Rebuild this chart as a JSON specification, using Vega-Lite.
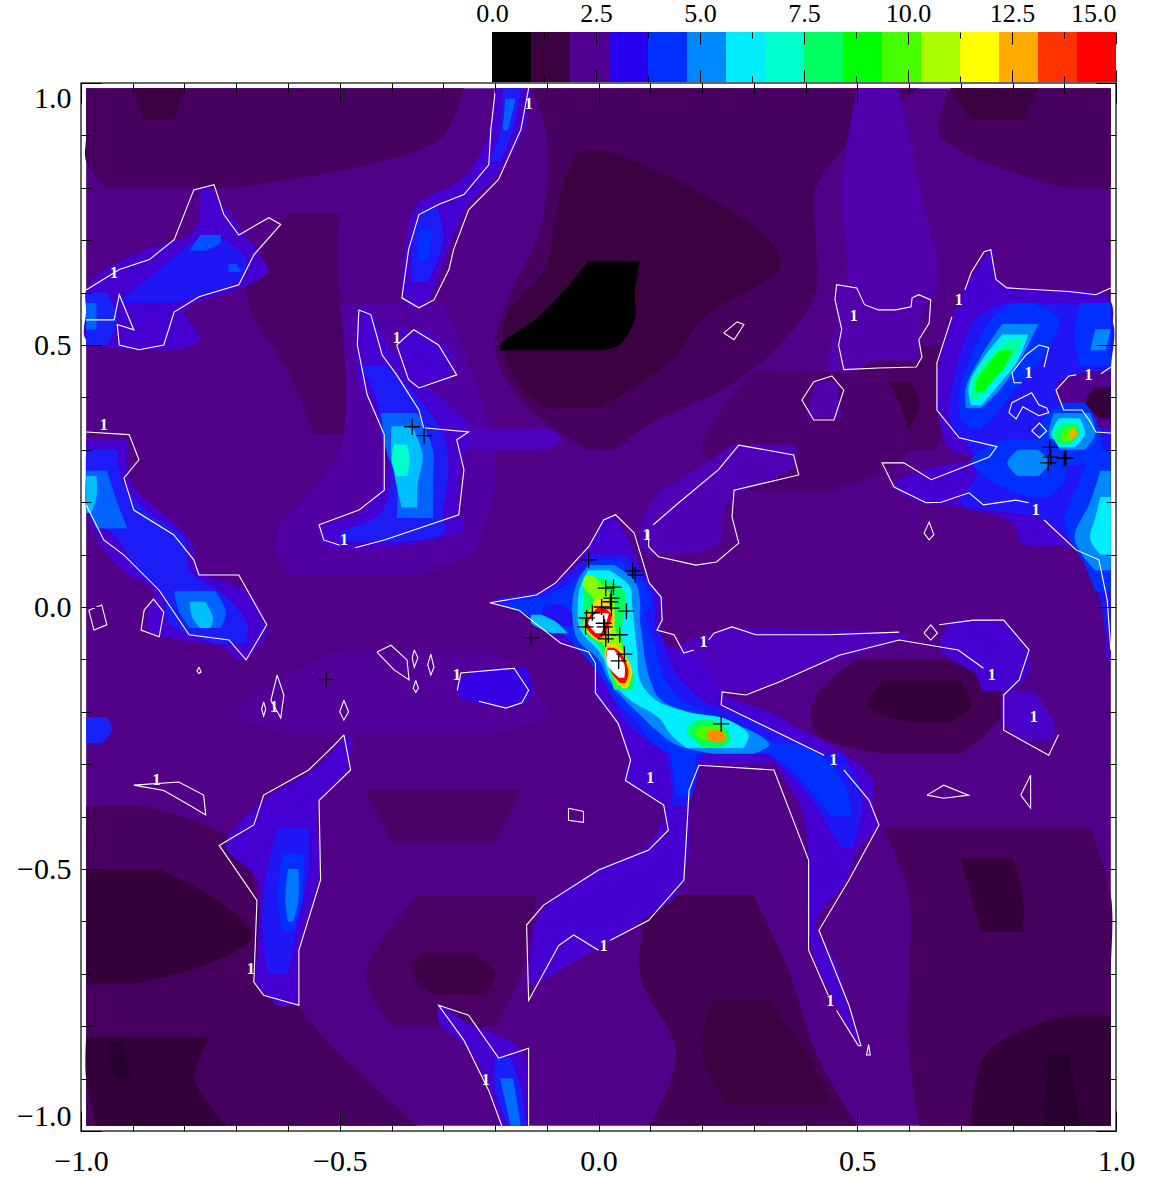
{"$schema":"https://vega.github.io/schema/vega-lite/v6.json","padding":0,"background":"white","config":{"view":{"stroke":null},"concat":{"spacing":-3},"axis":{"labelFont":"Liberation Serif","titleFont":"Liberation Serif","grid":false,"domain":false,"title":null,"tickColor":"black"}},
"datasets":{"cb":[{"lo":0,"hi":0.9375,"v":0,"b":0,"t":1},{"lo":0.9375,"hi":1.875,"v":1,"b":0,"t":1},{"lo":1.875,"hi":2.8125,"v":2,"b":0,"t":1},{"lo":2.8125,"hi":3.75,"v":3,"b":0,"t":1},{"lo":3.75,"hi":4.6875,"v":4,"b":0,"t":1},{"lo":4.6875,"hi":5.625,"v":5,"b":0,"t":1},{"lo":5.625,"hi":6.5625,"v":6,"b":0,"t":1},{"lo":6.5625,"hi":7.5,"v":7,"b":0,"t":1},{"lo":7.5,"hi":8.4375,"v":8,"b":0,"t":1},{"lo":8.4375,"hi":9.375,"v":9,"b":0,"t":1},{"lo":9.375,"hi":10.3125,"v":10,"b":0,"t":1},{"lo":10.3125,"hi":11.25,"v":11,"b":0,"t":1},{"lo":11.25,"hi":12.1875,"v":12,"b":0,"t":1},{"lo":12.1875,"hi":13.125,"v":13,"b":0,"t":1},{"lo":13.125,"hi":14.0625,"v":14,"b":0,"t":1},{"lo":14.0625,"hi":15,"v":15,"b":0,"t":1}],
"lab":[{"x":-0.135,"y":0.96},{"x":-0.936,"y":0.638},{"x":-0.39,"y":0.514},{"x":-0.956,"y":0.348},{"x":-0.492,"y":0.128},{"x":-0.672,"y":-0.69},{"x":-0.274,"y":-0.13},{"x":-0.627,"y":-0.191},{"x":-0.854,"y":-0.33},{"x":-0.218,"y":-0.903},{"x":0.01,"y":-0.646},{"x":0.093,"y":0.138},{"x":0.203,"y":-0.067},{"x":0.1,"y":-0.327},{"x":0.454,"y":-0.292},{"x":0.448,"y":-0.751},{"x":0.76,"y":-0.13},{"x":0.841,"y":-0.21},{"x":0.696,"y":0.586},{"x":0.493,"y":0.556},{"x":0.831,"y":0.447},{"x":0.947,"y":0.443},{"x":0.845,"y":0.185}],
"src":[{"x":-0.019,"y":0.09},{"x":0.066,"y":0.069},{"x":0.071,"y":0.061},{"x":0.014,"y":0.036},{"x":0.029,"y":0.038},{"x":0.025,"y":0.017},{"x":0.023,"y":0.01},{"x":0.006,"y":0},{"x":0.025,"y":-0.002},{"x":0.054,"y":-0.008},{"x":-0.012,"y":-0.011},{"x":-0.023,"y":-0.021},{"x":-0.025,"y":-0.038},{"x":0.01,"y":-0.031},{"x":0.012,"y":-0.038},{"x":0.019,"y":-0.053},{"x":0.041,"y":-0.053},{"x":0.014,"y":-0.061},{"x":0.05,"y":-0.09},{"x":0.039,"y":-0.103},{"x":-0.13,"y":-0.059},{"x":0.237,"y":-0.223},{"x":-0.526,"y":-0.138},{"x":-0.36,"y":0.344},{"x":-0.337,"y":0.327},{"x":0.872,"y":0.305},{"x":0.874,"y":0.286},{"x":0.869,"y":0.275},{"x":0.9,"y":0.284},{"x":0.903,"y":0.284}],
"cont":[
{"c":1,"x":-0.199,"y":0.99},{"c":1,"x":-0.208,"y":0.911},{"c":1,"x":-0.212,"y":0.844},{"c":1,"x":-0.26,"y":0.787},{"c":1,"x":-0.309,"y":0.768},{"c":1,"x":-0.347,"y":0.749},{"c":1,"x":-0.367,"y":0.682},{"c":1,"x":-0.38,"y":0.59},{"c":1,"x":-0.347,"y":0.571},{"c":1,"x":-0.318,"y":0.586},{"c":1,"x":-0.289,"y":0.644},{"c":1,"x":-0.28,"y":0.682},{"c":1,"x":-0.251,"y":0.758},{"c":1,"x":-0.193,"y":0.816},{"c":1,"x":-0.15,"y":0.911},{"c":1,"x":-0.135,"y":0.99},
{"c":2,"x":-0.463,"y":0.567},{"c":2,"x":-0.466,"y":0.5},{"c":2,"x":-0.447,"y":0.405},{"c":2,"x":-0.414,"y":0.329},{"c":2,"x":-0.414,"y":0.223},{"c":2,"x":-0.463,"y":0.185},{"c":2,"x":-0.54,"y":0.157},{"c":2,"x":-0.531,"y":0.128},{"c":2,"x":-0.5,"y":0.118},
{"c":3,"x":-0.47,"y":0.113},{"c":3,"x":-0.414,"y":0.128},{"c":3,"x":-0.27,"y":0.176},{"c":3,"x":-0.26,"y":0.262},{"c":3,"x":-0.274,"y":0.319},{"c":3,"x":-0.251,"y":0.334},{"c":3,"x":-0.338,"y":0.342},{"c":3,"x":-0.347,"y":0.376},{"c":3,"x":-0.39,"y":0.443},{"c":3,"x":-0.418,"y":0.481},{"c":3,"x":-0.44,"y":0.558},{"c":3,"x":-0.463,"y":0.567},
{"c":4,"x":-0.39,"y":0.5},{"c":4,"x":-0.357,"y":0.529},{"c":4,"x":-0.309,"y":0.5},{"c":4,"x":-0.274,"y":0.443},{"c":4,"x":-0.347,"y":0.418},{"c":4,"x":-0.367,"y":0.434},{"c":4,"x":-0.39,"y":0.5},
{"c":5,"x":-0.99,"y":0.334},{"c":5,"x":-0.907,"y":0.329},{"c":5,"x":-0.888,"y":0.281},{"c":5,"x":-0.917,"y":0.246},{"c":5,"x":-0.898,"y":0.185},{"c":5,"x":-0.821,"y":0.138},{"c":5,"x":-0.782,"y":0.09},{"c":5,"x":-0.772,"y":0.061},{"c":5,"x":-0.695,"y":0.061},{"c":5,"x":-0.641,"y":-0.034},{"c":5,"x":-0.681,"y":-0.101},{"c":5,"x":-0.714,"y":-0.063},{"c":5,"x":-0.791,"y":-0.053},{"c":5,"x":-0.849,"y":0.032},{"c":5,"x":-0.917,"y":0.099},{"c":5,"x":-0.956,"y":0.128},{"c":5,"x":-0.99,"y":0.195},
{"c":6,"x":-0.878,"y":-0.006},{"c":6,"x":-0.884,"y":-0.044},{"c":6,"x":-0.849,"y":-0.057},{"c":6,"x":-0.84,"y":-0.01},{"c":6,"x":-0.86,"y":0.015},{"c":6,"x":-0.878,"y":-0.006},
{"c":7,"x":-0.985,"y":-0.006},{"c":7,"x":-0.96,"y":0.004},{"c":7,"x":-0.95,"y":-0.034},{"c":7,"x":-0.975,"y":-0.044},{"c":7,"x":-0.985,"y":-0.006},
{"c":8,"x":-0.99,"y":0.605},{"c":8,"x":-0.926,"y":0.644},{"c":8,"x":-0.868,"y":0.663},{"c":8,"x":-0.82,"y":0.701},{"c":8,"x":-0.782,"y":0.796},{"c":8,"x":-0.743,"y":0.806},{"c":8,"x":-0.724,"y":0.749},{"c":8,"x":-0.695,"y":0.71},{"c":8,"x":-0.637,"y":0.743},{"c":8,"x":-0.614,"y":0.73},{"c":8,"x":-0.666,"y":0.672},{"c":8,"x":-0.695,"y":0.615},{"c":8,"x":-0.772,"y":0.592},{"c":8,"x":-0.82,"y":0.563},{"c":8,"x":-0.84,"y":0.5},{"c":8,"x":-0.888,"y":0.491},{"c":8,"x":-0.926,"y":0.5},{"c":8,"x":-0.93,"y":0.539},{"c":8,"x":-0.898,"y":0.529},{"c":8,"x":-0.926,"y":0.596},{"c":8,"x":-0.936,"y":0.548},{"c":8,"x":-0.99,"y":0.548},
{"c":9,"x":-0.492,"y":-0.244},{"c":9,"x":-0.479,"y":-0.311},{"c":9,"x":-0.54,"y":-0.369},{"c":9,"x":-0.537,"y":-0.521},{"c":9,"x":-0.579,"y":-0.655},{"c":9,"x":-0.579,"y":-0.76},{"c":9,"x":-0.647,"y":-0.741},{"c":9,"x":-0.666,"y":-0.716},{"c":9,"x":-0.66,"y":-0.56},{"c":9,"x":-0.733,"y":-0.455},{"c":9,"x":-0.666,"y":-0.416},{"c":9,"x":-0.647,"y":-0.359},{"c":9,"x":-0.56,"y":-0.311},{"c":9,"x":-0.511,"y":-0.264},{"c":9,"x":-0.492,"y":-0.244},
{"c":10,"x":-0.135,"y":-0.99},{"c":10,"x":-0.135,"y":-0.842},{"c":10,"x":-0.193,"y":-0.861},{"c":10,"x":-0.251,"y":-0.779},{"c":10,"x":-0.309,"y":-0.76},{"c":10,"x":-0.26,"y":-0.827},{"c":10,"x":-0.212,"y":-0.923},{"c":10,"x":-0.187,"y":-0.99},
{"c":11,"x":0.184,"y":-0.082},{"c":11,"x":0.165,"y":-0.088},{"c":11,"x":0.146,"y":-0.053},{"c":11,"x":0.113,"y":-0.044},{"c":11,"x":0.123,"y":-0.025},{"c":11,"x":0.121,"y":0.019},{"c":11,"x":0.098,"y":0.046},{"c":11,"x":0.069,"y":0.141},{"c":11,"x":0.033,"y":0.176},{"c":11,"x":0.01,"y":0.166},{"c":11,"x":-0.019,"y":0.115},{"c":11,"x":-0.083,"y":0.046},{"c":11,"x":-0.12,"y":0.023},{"c":11,"x":-0.21,"y":0.008},{"c":11,"x":-0.154,"y":-0.006},{"c":11,"x":-0.073,"y":-0.069},{"c":11,"x":-0.019,"y":-0.086},{"c":11,"x":-0.006,"y":-0.107},{"c":11,"x":-0.006,"y":-0.164},{"c":11,"x":0.038,"y":-0.222},{"c":11,"x":0.062,"y":-0.292},{"c":11,"x":0.052,"y":-0.331},{"c":11,"x":0.126,"y":-0.378},{"c":11,"x":0.135,"y":-0.426},{"c":11,"x":0.097,"y":-0.464},{"c":11,"x":0,"y":-0.502},{"c":11,"x":-0.106,"y":-0.569},{"c":11,"x":-0.139,"y":-0.607},{"c":11,"x":-0.135,"y":-0.751},{"c":11,"x":-0.077,"y":-0.646},{"c":11,"x":-0.048,"y":-0.626},{"c":11,"x":0,"y":-0.655},
{"c":12,"x":0.023,"y":-0.636},{"c":12,"x":0.097,"y":-0.598},{"c":12,"x":0.165,"y":-0.521},{"c":12,"x":0.175,"y":-0.35},{"c":12,"x":0.194,"y":-0.302},{"c":12,"x":0.339,"y":-0.311},{"c":12,"x":0.406,"y":-0.483},{"c":12,"x":0.406,"y":-0.655},{"c":12,"x":0.444,"y":-0.741},
{"c":13,"x":0.46,"y":-0.77},{"c":13,"x":0.502,"y":-0.837},{"c":13,"x":0.507,"y":-0.837},{"c":13,"x":0.484,"y":-0.76},{"c":13,"x":0.426,"y":-0.617},{"c":13,"x":0.484,"y":-0.521},{"c":13,"x":0.542,"y":-0.416},{"c":13,"x":0.523,"y":-0.369},{"c":13,"x":0.474,"y":-0.311},
{"c":14,"x":0.436,"y":-0.283},{"c":14,"x":0.237,"y":-0.187},{"c":14,"x":0.239,"y":-0.162},{"c":14,"x":0.285,"y":-0.168},{"c":14,"x":0.349,"y":-0.143},{"c":14,"x":0.465,"y":-0.092},{"c":14,"x":0.581,"y":-0.063},{"c":14,"x":0.695,"y":-0.082},{"c":14,"x":0.744,"y":-0.117},
{"c":15,"x":0.213,"y":-0.063},{"c":15,"x":0.223,"y":-0.05},{"c":15,"x":0.258,"y":-0.038},{"c":15,"x":0.304,"y":-0.053},{"c":15,"x":0.349,"y":-0.053},{"c":15,"x":0.445,"y":-0.053},{"c":15,"x":0.581,"y":-0.048},
{"c":16,"x":0.629,"y":-0.05},{"c":16,"x":0.642,"y":-0.034},{"c":16,"x":0.655,"y":-0.05},{"c":16,"x":0.642,"y":-0.063},{"c":16,"x":0.629,"y":-0.05},
{"c":17,"x":0.658,"y":-0.034},{"c":17,"x":0.725,"y":-0.025},{"c":17,"x":0.783,"y":-0.025},{"c":17,"x":0.832,"y":-0.082},{"c":17,"x":0.813,"y":-0.139},{"c":17,"x":0.783,"y":-0.168},{"c":17,"x":0.783,"y":-0.235},{"c":17,"x":0.87,"y":-0.283},{"c":17,"x":0.889,"y":-0.244},
{"c":18,"x":0.106,"y":0.157},{"c":18,"x":0.155,"y":0.199},{"c":18,"x":0.232,"y":0.262},{"c":18,"x":0.271,"y":0.309},{"c":18,"x":0.377,"y":0.29},{"c":18,"x":0.387,"y":0.252},{"c":18,"x":0.262,"y":0.223},{"c":18,"x":0.258,"y":0.172},{"c":18,"x":0.271,"y":0.122},{"c":18,"x":0.228,"y":0.086},{"c":18,"x":0.188,"y":0.08},{"c":18,"x":0.116,"y":0.096},{"c":18,"x":0.097,"y":0.115},{"c":18,"x":0.097,"y":0.147},
{"c":19,"x":-0.058,"y":-0.384},{"c":19,"x":-0.029,"y":-0.39},{"c":19,"x":-0.029,"y":-0.411},{"c":19,"x":-0.058,"y":-0.407},{"c":19,"x":-0.058,"y":-0.384},
{"c":20,"x":0.635,"y":-0.359},{"c":20,"x":0.667,"y":-0.34},{"c":20,"x":0.715,"y":-0.359},{"c":20,"x":0.667,"y":-0.365},{"c":20,"x":0.635,"y":-0.359},
{"c":21,"x":0.816,"y":-0.359},{"c":21,"x":0.835,"y":-0.321},{"c":21,"x":0.835,"y":-0.384},{"c":21,"x":0.816,"y":-0.359},
{"c":22,"x":0.522,"y":-0.835},{"c":22,"x":0.525,"y":-0.855},{"c":22,"x":0.518,"y":-0.855},{"c":22,"x":0.522,"y":-0.835},
{"c":23,"x":0.474,"y":0.453},{"c":23,"x":0.464,"y":0.5},{"c":23,"x":0.47,"y":0.53},{"c":23,"x":0.457,"y":0.586},{"c":23,"x":0.46,"y":0.615},{"c":23,"x":0.499,"y":0.609},{"c":23,"x":0.514,"y":0.577},{"c":23,"x":0.541,"y":0.567},{"c":23,"x":0.574,"y":0.567},{"c":23,"x":0.604,"y":0.573},{"c":23,"x":0.606,"y":0.59},{"c":23,"x":0.619,"y":0.596},{"c":23,"x":0.642,"y":0.586},{"c":23,"x":0.639,"y":0.542},{"c":23,"x":0.619,"y":0.51},{"c":23,"x":0.625,"y":0.477},{"c":23,"x":0.614,"y":0.458},{"c":23,"x":0.541,"y":0.456},{"c":23,"x":0.474,"y":0.453},
{"c":24,"x":0.451,"y":0.441},{"c":24,"x":0.474,"y":0.414},{"c":24,"x":0.455,"y":0.357},{"c":24,"x":0.416,"y":0.357},{"c":24,"x":0.393,"y":0.395},{"c":24,"x":0.416,"y":0.43},{"c":24,"x":0.451,"y":0.441},
{"c":25,"x":0.242,"y":0.523},{"c":25,"x":0.268,"y":0.544},{"c":25,"x":0.281,"y":0.539},{"c":25,"x":0.262,"y":0.51},{"c":25,"x":0.242,"y":0.523},
{"c":26,"x":0.99,"y":0.609},{"c":26,"x":0.961,"y":0.596},{"c":26,"x":0.909,"y":0.602},{"c":26,"x":0.789,"y":0.609},{"c":26,"x":0.768,"y":0.625},{"c":26,"x":0.758,"y":0.682},{"c":26,"x":0.745,"y":0.678},{"c":26,"x":0.72,"y":0.638},{"c":26,"x":0.708,"y":0.605},
{"c":27,"x":0.683,"y":0.554},{"c":27,"x":0.654,"y":0.466},{"c":27,"x":0.654,"y":0.376},{"c":27,"x":0.697,"y":0.323},{"c":27,"x":0.77,"y":0.306},{"c":27,"x":0.755,"y":0.286},{"c":27,"x":0.643,"y":0.243},{"c":27,"x":0.59,"y":0.275},{"c":27,"x":0.548,"y":0.275},{"c":27,"x":0.571,"y":0.229},{"c":27,"x":0.633,"y":0.199},{"c":27,"x":0.662,"y":0.2},{"c":27,"x":0.716,"y":0.218},{"c":27,"x":0.744,"y":0.195},{"c":27,"x":0.806,"y":0.204},{"c":27,"x":0.831,"y":0.199},
{"c":28,"x":0.861,"y":0.166},{"c":28,"x":0.923,"y":0.109},{"c":28,"x":0.967,"y":0.09},{"c":28,"x":0.983,"y":0.013},{"c":28,"x":0.99,"y":-0.082},
{"c":29,"x":0.629,"y":0.141},{"c":29,"x":0.639,"y":0.162},{"c":29,"x":0.648,"y":0.138},{"c":29,"x":0.639,"y":0.128},{"c":29,"x":0.629,"y":0.141},
{"c":30,"x":0.818,"y":0.428},{"c":30,"x":0.803,"y":0.428},{"c":30,"x":0.799,"y":0.447},{"c":30,"x":0.826,"y":0.481},{"c":30,"x":0.851,"y":0.5},{"c":30,"x":0.87,"y":0.495},{"c":30,"x":0.861,"y":0.458},
{"c":31,"x":0.793,"y":0.371},{"c":31,"x":0.807,"y":0.359},{"c":31,"x":0.82,"y":0.382},{"c":31,"x":0.851,"y":0.365},{"c":31,"x":0.87,"y":0.371},{"c":31,"x":0.866,"y":0.38},{"c":31,"x":0.851,"y":0.386},{"c":31,"x":0.837,"y":0.409},{"c":31,"x":0.799,"y":0.39},{"c":31,"x":0.793,"y":0.371},
{"c":32,"x":0.837,"y":0.336},{"c":32,"x":0.852,"y":0.351},{"c":32,"x":0.866,"y":0.336},{"c":32,"x":0.852,"y":0.323},{"c":32,"x":0.837,"y":0.336},
{"c":33,"x":0.923,"y":0.443},{"c":33,"x":0.909,"y":0.441},{"c":33,"x":0.884,"y":0.414},{"c":33,"x":0.899,"y":0.376},{"c":33,"x":0.934,"y":0.376},{"c":33,"x":0.948,"y":0.357},{"c":33,"x":0.961,"y":0.334},{"c":33,"x":0.99,"y":0.332},
{"c":34,"x":0.971,"y":0.445},{"c":34,"x":0.99,"y":0.458},
{"c":35,"x":-0.428,"y":-0.086},{"c":35,"x":-0.401,"y":-0.073},{"c":35,"x":-0.37,"y":-0.101},{"c":35,"x":-0.366,"y":-0.139},{"c":35,"x":-0.395,"y":-0.12},{"c":35,"x":-0.428,"y":-0.086},
{"c":36,"x":-0.356,"y":-0.082},{"c":36,"x":-0.349,"y":-0.097},{"c":36,"x":-0.356,"y":-0.115},{"c":36,"x":-0.36,"y":-0.097},{"c":36,"x":-0.356,"y":-0.082},
{"c":37,"x":-0.324,"y":-0.09},{"c":37,"x":-0.318,"y":-0.115},{"c":37,"x":-0.324,"y":-0.13},{"c":37,"x":-0.33,"y":-0.11},{"c":37,"x":-0.324,"y":-0.09},
{"c":38,"x":-0.353,"y":-0.14},{"c":38,"x":-0.348,"y":-0.155},{"c":38,"x":-0.353,"y":-0.163},{"c":38,"x":-0.358,"y":-0.155},{"c":38,"x":-0.353,"y":-0.14},
{"c":39,"x":-0.621,"y":-0.13},{"c":39,"x":-0.608,"y":-0.168},{"c":39,"x":-0.614,"y":-0.212},{"c":39,"x":-0.633,"y":-0.178},{"c":39,"x":-0.621,"y":-0.13},
{"c":40,"x":-0.647,"y":-0.181},{"c":40,"x":-0.643,"y":-0.195},{"c":40,"x":-0.647,"y":-0.208},{"c":40,"x":-0.651,"y":-0.195},{"c":40,"x":-0.647,"y":-0.181},
{"c":41,"x":-0.492,"y":-0.178},{"c":41,"x":-0.483,"y":-0.2},{"c":41,"x":-0.492,"y":-0.216},{"c":41,"x":-0.5,"y":-0.2},{"c":41,"x":-0.492,"y":-0.178},
{"c":42,"x":-0.772,"y":-0.115},{"c":42,"x":-0.768,"y":-0.124},{"c":42,"x":-0.772,"y":-0.127},{"c":42,"x":-0.776,"y":-0.122},{"c":42,"x":-0.772,"y":-0.115},
{"c":43,"x":-0.898,"y":-0.34},{"c":43,"x":-0.811,"y":-0.334},{"c":43,"x":-0.763,"y":-0.359},{"c":43,"x":-0.759,"y":-0.397},{"c":43,"x":-0.791,"y":-0.378},{"c":43,"x":-0.84,"y":-0.35},{"c":43,"x":-0.898,"y":-0.34},
{"c":44,"x":-0.273,"y":-0.159},{"c":44,"x":-0.266,"y":-0.126},{"c":44,"x":-0.163,"y":-0.117},{"c":44,"x":-0.135,"y":-0.159},{"c":44,"x":-0.148,"y":-0.183},{"c":44,"x":-0.179,"y":-0.193},{"c":44,"x":-0.231,"y":-0.18}
],
"map":[
{"k":0,"v":1.9,"y":0.99,"x":-0.99,"w":0.99},{"k":0,"v":1.9,"y":-0.99,"x":-0.99,"w":0.99},
{"k":1,"v":1.4,"y":0.99,"x":-0.99,"w":-0.26},{"k":1,"v":1.4,"y":0.9,"x":-0.99,"w":-0.3},{"k":1,"v":1.4,"y":0.85,"x":-0.99,"w":-0.42},{"k":1,"v":1.4,"y":0.8,"x":-0.95,"w":-0.7},
{"k":2,"v":1,"y":0.99,"x":-0.9,"w":-0.8},{"k":2,"v":1,"y":0.93,"x":-0.88,"w":-0.82},
{"k":3,"v":1.4,"y":0.99,"x":-0.13,"w":0.62},{"k":3,"v":1.4,"y":0.9,"x":-0.1,"w":0.5},{"k":3,"v":1.4,"y":0.8,"x":-0.1,"w":0.42},{"k":3,"v":1.4,"y":0.7,"x":-0.12,"w":0.42},{"k":3,"v":1.4,"y":0.6,"x":-0.17,"w":0.42},{"k":3,"v":1.4,"y":0.5,"x":-0.2,"w":0.35},{"k":3,"v":1.4,"y":0.42,"x":-0.17,"w":0.25},{"k":3,"v":1.4,"y":0.35,"x":-0.1,"w":0.1},{"k":3,"v":1.4,"y":0.3,"x":-0.02,"w":0.03},
{"k":4,"v":1,"y":0.87,"x":-0.04,"w":0.02},{"k":4,"v":1,"y":0.8,"x":-0.07,"w":0.18},{"k":4,"v":1,"y":0.7,"x":-0.09,"w":0.33},{"k":4,"v":1,"y":0.65,"x":-0.1,"w":0.35},{"k":4,"v":1,"y":0.55,"x":-0.18,"w":0.2},{"k":4,"v":1,"y":0.48,"x":-0.18,"w":0.15},{"k":4,"v":1,"y":0.42,"x":-0.15,"w":0.07},{"k":4,"v":1,"y":0.38,"x":-0.1,"w":0},
{"k":5,"v":0.2,"y":0.66,"x":-0.02,"w":0.08},{"k":5,"v":0.2,"y":0.6,"x":-0.07,"w":0.07},{"k":5,"v":0.2,"y":0.55,"x":-0.12,"w":0.07},{"k":5,"v":0.2,"y":0.5,"x":-0.19,"w":0.04},{"k":5,"v":0.2,"y":0.49,"x":-0.19,"w":0},
{"k":6,"v":1.4,"y":0.99,"x":0.68,"w":0.99},{"k":6,"v":1.4,"y":0.9,"x":0.66,"w":0.99},{"k":6,"v":1.4,"y":0.8,"x":0.9,"w":0.99},
{"k":7,"v":1,"y":0.99,"x":0.68,"w":0.85},{"k":7,"v":1,"y":0.93,"x":0.72,"w":0.82},
{"k":8,"v":1.4,"y":-0.38,"x":-0.99,"w":-0.88},{"k":8,"v":1.4,"y":-0.45,"x":-0.99,"w":-0.7},{"k":8,"v":1.4,"y":-0.6,"x":-0.99,"w":-0.65},{"k":8,"v":1.4,"y":-0.7,"x":-0.99,"w":-0.62},{"k":8,"v":1.4,"y":-0.8,"x":-0.99,"w":-0.55},{"k":8,"v":1.4,"y":-0.9,"x":-0.99,"w":-0.45},{"k":8,"v":1.4,"y":-0.99,"x":-0.99,"w":-0.35},
{"k":9,"v":0.9,"y":-0.5,"x":-0.99,"w":-0.85},{"k":9,"v":0.9,"y":-0.57,"x":-0.99,"w":-0.72},{"k":9,"v":0.9,"y":-0.63,"x":-0.99,"w":-0.67},{"k":9,"v":0.9,"y":-0.68,"x":-0.99,"w":-0.75},{"k":9,"v":0.9,"y":-0.72,"x":-0.99,"w":-0.9},
{"k":10,"v":0.9,"y":-0.82,"x":-0.99,"w":-0.75},{"k":10,"v":0.9,"y":-0.9,"x":-0.99,"w":-0.78},{"k":10,"v":0.9,"y":-0.99,"x":-0.97,"w":-0.72},
{"k":11,"v":0.7,"y":-0.83,"x":-0.95,"w":-0.92},{"k":11,"v":0.7,"y":-0.87,"x":-0.945,"w":-0.91},{"k":11,"v":0.7,"y":-0.9,"x":-0.93,"w":-0.9},
{"k":12,"v":1.5,"y":-0.55,"x":-0.35,"w":-0.12},{"k":12,"v":1.5,"y":-0.7,"x":-0.45,"w":-0.15},{"k":12,"v":1.5,"y":-0.8,"x":-0.4,"w":-0.2},
{"k":13,"v":1.1,"y":-0.66,"x":-0.34,"w":-0.24},{"k":13,"v":1.1,"y":-0.7,"x":-0.36,"w":-0.2},{"k":13,"v":1.1,"y":-0.74,"x":-0.32,"w":-0.22},
{"k":14,"v":1.3,"y":-0.55,"x":0.1,"w":0.3},{"k":14,"v":1.3,"y":-0.7,"x":0.08,"w":0.37},{"k":14,"v":1.3,"y":-0.85,"x":0.15,"w":0.42},{"k":14,"v":1.3,"y":-0.99,"x":0.1,"w":0.5},
{"k":15,"v":1,"y":-0.75,"x":0.22,"w":0.33},{"k":15,"v":1,"y":-0.85,"x":0.2,"w":0.4},{"k":15,"v":1,"y":-0.95,"x":0.25,"w":0.45},
{"k":16,"v":1.4,"y":-0.42,"x":0.55,"w":0.95},{"k":16,"v":1.4,"y":-0.55,"x":0.6,"w":0.99},{"k":16,"v":1.4,"y":-0.7,"x":0.6,"w":0.99},{"k":16,"v":1.4,"y":-0.85,"x":0.6,"w":0.99},{"k":16,"v":1.4,"y":-0.99,"x":0.62,"w":0.99},
{"k":17,"v":0.9,"y":-0.48,"x":0.7,"w":0.8},{"k":17,"v":0.9,"y":-0.55,"x":0.72,"w":0.82},{"k":17,"v":0.9,"y":-0.62,"x":0.74,"w":0.82},
{"k":18,"v":0.9,"y":-0.78,"x":0.9,"w":0.99},{"k":18,"v":0.9,"y":-0.85,"x":0.75,"w":0.99},{"k":18,"v":0.9,"y":-0.99,"x":0.72,"w":0.99},
{"k":19,"v":0.7,"y":-0.85,"x":0.87,"w":0.91},{"k":19,"v":0.7,"y":-0.92,"x":0.865,"w":0.92},{"k":19,"v":0.7,"y":-0.99,"x":0.86,"w":0.93},
{"k":20,"v":1.3,"y":-0.1,"x":0.5,"w":0.72},{"k":20,"v":1.3,"y":-0.17,"x":0.42,"w":0.8},{"k":20,"v":1.3,"y":-0.24,"x":0.42,"w":0.75},{"k":20,"v":1.3,"y":-0.28,"x":0.55,"w":0.7},
{"k":21,"v":0.9,"y":-0.14,"x":0.55,"w":0.7},{"k":21,"v":0.9,"y":-0.19,"x":0.52,"w":0.72},{"k":21,"v":0.9,"y":-0.22,"x":0.6,"w":0.68},
{"k":22,"v":1.5,"y":0.5,"x":0.5,"w":0.66},{"k":22,"v":1.5,"y":0.4,"x":0.47,"w":0.68},{"k":22,"v":1.5,"y":0.3,"x":0.5,"w":0.65},
{"k":23,"v":1,"y":0.43,"x":0.55,"w":0.6},{"k":23,"v":1,"y":0.39,"x":0.54,"w":0.62},{"k":23,"v":1,"y":0.34,"x":0.56,"w":0.6},
{"k":24,"v":1.5,"y":0.75,"x":-0.6,"w":-0.5},{"k":24,"v":1.5,"y":0.6,"x":-0.68,"w":-0.5},{"k":24,"v":1.5,"y":0.45,"x":-0.6,"w":-0.42},{"k":24,"v":1.5,"y":0.33,"x":-0.55,"w":-0.48},
{"k":25,"v":1.6,"y":0.45,"x":0.3,"w":0.55},{"k":25,"v":1.6,"y":0.3,"x":0.2,"w":0.6},{"k":25,"v":1.6,"y":0.22,"x":0.3,"w":0.45},
{"k":26,"v":1.5,"y":-0.35,"x":-0.45,"w":-0.15},{"k":26,"v":1.5,"y":-0.45,"x":-0.4,"w":-0.2},
{"k":27,"v":2.3,"y":0.99,"x":0.5,"w":0.58},{"k":27,"v":2.3,"y":0.8,"x":0.47,"w":0.62},{"k":27,"v":2.3,"y":0.6,"x":0.48,"w":0.65},{"k":27,"v":2.3,"y":0.45,"x":0.44,"w":0.5},
{"k":28,"v":2.3,"y":0.62,"x":0.46,"w":0.58},{"k":28,"v":2.3,"y":0.55,"x":0.46,"w":0.62},{"k":28,"v":2.3,"y":0.47,"x":0.44,"w":0.62},
{"k":29,"v":2.3,"y":0.43,"x":0.42,"w":0.46},{"k":29,"v":2.3,"y":0.36,"x":0.4,"w":0.47},
{"k":30,"v":2.4,"y":0.31,"x":0.26,"w":0.38},{"k":30,"v":2.4,"y":0.27,"x":0.2,"w":0.38},{"k":30,"v":2.4,"y":0.2,"x":0.1,"w":0.25},{"k":30,"v":2.4,"y":0.12,"x":0.08,"w":0.23},{"k":30,"v":2.4,"y":0.1,"x":0.1,"w":0.15},
{"k":31,"v":2.1,"y":-0.08,"x":-0.5,"w":-0.2},{"k":31,"v":2.1,"y":-0.2,"x":-0.7,"w":-0.1},{"k":31,"v":2.1,"y":-0.24,"x":-0.6,"w":-0.2},
{"k":32,"v":2.2,"y":0.58,"x":-0.5,"w":-0.3},{"k":32,"v":2.2,"y":0.3,"x":-0.5,"w":-0.2},{"k":32,"v":2.2,"y":0.15,"x":-0.62,"w":-0.22},{"k":32,"v":2.2,"y":0.1,"x":-0.62,"w":-0.25},{"k":32,"v":2.2,"y":0.06,"x":-0.6,"w":-0.35},
{"k":33,"v":2.5,"y":0.34,"x":-0.3,"w":-0.1},{"k":33,"v":2.5,"y":0.32,"x":-0.3,"w":-0.07},{"k":33,"v":2.5,"y":0.3,"x":-0.3,"w":-0.1},
{"k":34,"v":2.7,"y":0.99,"x":-0.2,"w":-0.13},{"k":34,"v":2.7,"y":0.91,"x":-0.21,"w":-0.145},{"k":34,"v":2.7,"y":0.82,"x":-0.26,"w":-0.2},{"k":34,"v":2.7,"y":0.77,"x":-0.35,"w":-0.25},{"k":34,"v":2.7,"y":0.71,"x":-0.37,"w":-0.28},{"k":34,"v":2.7,"y":0.6,"x":-0.38,"w":-0.32},{"k":34,"v":2.7,"y":0.575,"x":-0.37,"w":-0.33},
{"k":35,"v":3.4,"y":0.99,"x":-0.185,"w":-0.15},{"k":35,"v":3.4,"y":0.91,"x":-0.19,"w":-0.165},{"k":35,"v":3.4,"y":0.85,"x":-0.21,"w":-0.19},
{"k":36,"v":4.5,"y":0.97,"x":-0.18,"w":-0.16},{"k":36,"v":4.5,"y":0.91,"x":-0.185,"w":-0.175},
{"k":37,"v":3.4,"y":0.76,"x":-0.34,"w":-0.31},{"k":37,"v":3.4,"y":0.7,"x":-0.36,"w":-0.3},{"k":37,"v":3.4,"y":0.62,"x":-0.36,"w":-0.33},
{"k":38,"v":4,"y":0.72,"x":-0.345,"w":-0.32},{"k":38,"v":4,"y":0.66,"x":-0.35,"w":-0.33},
{"k":39,"v":2.7,"y":0.57,"x":-0.47,"w":-0.44},{"k":39,"v":2.7,"y":0.49,"x":-0.47,"w":-0.4},{"k":39,"v":2.7,"y":0.42,"x":-0.46,"w":-0.33},{"k":39,"v":2.7,"y":0.34,"x":-0.42,"w":-0.25},{"k":39,"v":2.7,"y":0.26,"x":-0.41,"w":-0.27},{"k":39,"v":2.7,"y":0.18,"x":-0.46,"w":-0.27},{"k":39,"v":2.7,"y":0.15,"x":-0.54,"w":-0.26},{"k":39,"v":2.7,"y":0.12,"x":-0.53,"w":-0.36},{"k":39,"v":2.7,"y":0.11,"x":-0.5,"w":-0.45},
{"k":40,"v":2.7,"y":0.53,"x":-0.38,"w":-0.34},{"k":40,"v":2.7,"y":0.48,"x":-0.39,"w":-0.28},{"k":40,"v":2.7,"y":0.43,"x":-0.36,"w":-0.29},
{"k":41,"v":3.4,"y":0.46,"x":-0.46,"w":-0.41},{"k":41,"v":3.4,"y":0.4,"x":-0.43,"w":-0.35},{"k":41,"v":3.4,"y":0.33,"x":-0.42,"w":-0.3},{"k":41,"v":3.4,"y":0.26,"x":-0.4,"w":-0.29},{"k":41,"v":3.4,"y":0.18,"x":-0.42,"w":-0.3},{"k":41,"v":3.4,"y":0.14,"x":-0.5,"w":-0.3},{"k":41,"v":3.4,"y":0.125,"x":-0.5,"w":-0.4},
{"k":42,"v":4.5,"y":0.37,"x":-0.42,"w":-0.35},{"k":42,"v":4.5,"y":0.3,"x":-0.41,"w":-0.32},{"k":42,"v":4.5,"y":0.24,"x":-0.39,"w":-0.32},{"k":42,"v":4.5,"y":0.17,"x":-0.39,"w":-0.32},
{"k":43,"v":5.5,"y":0.345,"x":-0.4,"w":-0.36},{"k":43,"v":5.5,"y":0.29,"x":-0.4,"w":-0.34},{"k":43,"v":5.5,"y":0.23,"x":-0.39,"w":-0.35},{"k":43,"v":5.5,"y":0.19,"x":-0.38,"w":-0.35},
{"k":44,"v":7,"y":0.31,"x":-0.395,"w":-0.37},{"k":44,"v":7,"y":0.28,"x":-0.4,"w":-0.365},{"k":44,"v":7,"y":0.25,"x":-0.39,"w":-0.37},
{"k":45,"v":2.7,"y":0.32,"x":-0.99,"w":-0.91},{"k":45,"v":2.7,"y":0.24,"x":-0.99,"w":-0.905},{"k":45,"v":2.7,"y":0.185,"x":-0.99,"w":-0.85},{"k":45,"v":2.7,"y":0.13,"x":-0.97,"w":-0.79},{"k":45,"v":2.7,"y":0.07,"x":-0.92,"w":-0.77},{"k":45,"v":2.7,"y":0.03,"x":-0.86,"w":-0.68},{"k":45,"v":2.7,"y":-0.01,"x":-0.87,"w":-0.65},{"k":45,"v":2.7,"y":-0.045,"x":-0.87,"w":-0.64},{"k":45,"v":2.7,"y":-0.08,"x":-0.72,"w":-0.66},{"k":45,"v":2.7,"y":-0.1,"x":-0.7,"w":-0.69},
{"k":46,"v":3.4,"y":0.3,"x":-0.99,"w":-0.93},{"k":46,"v":3.4,"y":0.24,"x":-0.99,"w":-0.92},{"k":46,"v":3.4,"y":0.18,"x":-0.98,"w":-0.87},{"k":46,"v":3.4,"y":0.13,"x":-0.93,"w":-0.8},{"k":46,"v":3.4,"y":0.07,"x":-0.89,"w":-0.79},{"k":46,"v":3.4,"y":0.02,"x":-0.84,"w":-0.72},{"k":46,"v":3.4,"y":-0.03,"x":-0.83,"w":-0.68},{"k":46,"v":3.4,"y":-0.07,"x":-0.74,"w":-0.68},
{"k":47,"v":4.5,"y":0.26,"x":-0.99,"w":-0.95},{"k":47,"v":4.5,"y":0.2,"x":-0.99,"w":-0.93},{"k":47,"v":4.5,"y":0.15,"x":-0.97,"w":-0.91},
{"k":48,"v":4.5,"y":0.03,"x":-0.82,"w":-0.74},{"k":48,"v":4.5,"y":-0.01,"x":-0.81,"w":-0.72},{"k":48,"v":4.5,"y":-0.04,"x":-0.79,"w":-0.73},
{"k":49,"v":5.5,"y":0.25,"x":-0.99,"w":-0.97},{"k":49,"v":5.5,"y":0.21,"x":-0.99,"w":-0.97},{"k":49,"v":5.5,"y":0.18,"x":-0.99,"w":-0.98},
{"k":50,"v":5.5,"y":0.01,"x":-0.79,"w":-0.76},{"k":50,"v":5.5,"y":-0.02,"x":-0.785,"w":-0.745},{"k":50,"v":5.5,"y":-0.04,"x":-0.77,"w":-0.75},
{"k":51,"v":3.6,"y":-0.21,"x":-0.99,"w":-0.95},{"k":51,"v":3.6,"y":-0.235,"x":-0.99,"w":-0.94},{"k":51,"v":3.6,"y":-0.26,"x":-0.99,"w":-0.96},
{"k":52,"v":2.7,"y":0.8,"x":-0.77,"w":-0.75},{"k":52,"v":2.7,"y":0.72,"x":-0.78,"w":-0.69},{"k":52,"v":2.7,"y":0.68,"x":-0.88,"w":-0.66},{"k":52,"v":2.7,"y":0.64,"x":-0.96,"w":-0.64},{"k":52,"v":2.7,"y":0.605,"x":-0.99,"w":-0.7},{"k":52,"v":2.7,"y":0.565,"x":-0.99,"w":-0.8},{"k":52,"v":2.7,"y":0.51,"x":-0.99,"w":-0.77},{"k":52,"v":2.7,"y":0.49,"x":-0.87,"w":-0.82},
{"k":53,"v":3.3,"y":0.7,"x":-0.78,"w":-0.72},{"k":53,"v":3.3,"y":0.66,"x":-0.83,"w":-0.68},{"k":53,"v":3.3,"y":0.62,"x":-0.88,"w":-0.7},{"k":53,"v":3.3,"y":0.58,"x":-0.93,"w":-0.82},
{"k":54,"v":3.6,"y":0.6,"x":-0.99,"w":-0.95},{"k":54,"v":3.6,"y":0.55,"x":-0.99,"w":-0.93},{"k":54,"v":3.6,"y":0.5,"x":-0.99,"w":-0.95},
{"k":55,"v":4.3,"y":0.71,"x":-0.77,"w":-0.73},{"k":55,"v":4.3,"y":0.695,"x":-0.78,"w":-0.73},{"k":55,"v":4.3,"y":0.68,"x":-0.79,"w":-0.76},
{"k":56,"v":4.3,"y":0.655,"x":-0.715,"w":-0.7},{"k":56,"v":4.3,"y":0.64,"x":-0.715,"w":-0.69},
{"k":57,"v":4.5,"y":0.58,"x":-0.99,"w":-0.97},{"k":57,"v":4.5,"y":0.53,"x":-0.99,"w":-0.97},
{"k":58,"v":2.7,"y":-0.245,"x":-0.49,"w":-0.475},{"k":58,"v":2.7,"y":-0.31,"x":-0.55,"w":-0.485},{"k":58,"v":2.7,"y":-0.37,"x":-0.65,"w":-0.54},{"k":58,"v":2.7,"y":-0.455,"x":-0.72,"w":-0.54},{"k":58,"v":2.7,"y":-0.52,"x":-0.66,"w":-0.54},{"k":58,"v":2.7,"y":-0.655,"x":-0.66,"w":-0.58},{"k":58,"v":2.7,"y":-0.72,"x":-0.66,"w":-0.58},{"k":58,"v":2.7,"y":-0.76,"x":-0.62,"w":-0.58},
{"k":59,"v":3.3,"y":-0.42,"x":-0.62,"w":-0.56},{"k":59,"v":3.3,"y":-0.5,"x":-0.64,"w":-0.56},{"k":59,"v":3.3,"y":-0.6,"x":-0.65,"w":-0.58},{"k":59,"v":3.3,"y":-0.7,"x":-0.64,"w":-0.6},
{"k":60,"v":4,"y":-0.47,"x":-0.61,"w":-0.57},{"k":60,"v":4,"y":-0.55,"x":-0.62,"w":-0.57},{"k":60,"v":4,"y":-0.62,"x":-0.61,"w":-0.59},
{"k":61,"v":4.8,"y":-0.5,"x":-0.6,"w":-0.58},{"k":61,"v":4.8,"y":-0.56,"x":-0.605,"w":-0.58},{"k":61,"v":4.8,"y":-0.6,"x":-0.6,"w":-0.59},
{"k":62,"v":2.7,"y":-0.76,"x":-0.31,"w":-0.3},{"k":62,"v":2.7,"y":-0.79,"x":-0.31,"w":-0.26},{"k":62,"v":2.7,"y":-0.845,"x":-0.25,"w":-0.15},{"k":62,"v":2.7,"y":-0.92,"x":-0.21,"w":-0.135},{"k":62,"v":2.7,"y":-0.99,"x":-0.19,"w":-0.135},
{"k":63,"v":3.5,"y":-0.86,"x":-0.2,"w":-0.17},{"k":63,"v":3.5,"y":-0.92,"x":-0.2,"w":-0.15},{"k":63,"v":3.5,"y":-0.99,"x":-0.175,"w":-0.14},
{"k":64,"v":4.6,"y":-0.9,"x":-0.19,"w":-0.165},{"k":64,"v":4.6,"y":-0.99,"x":-0.17,"w":-0.15},
{"k":65,"v":2.5,"y":-0.04,"x":0.25,"w":0.3},{"k":65,"v":2.5,"y":-0.055,"x":0.2,"w":0.6},{"k":65,"v":2.5,"y":-0.08,"x":0.15,"w":0.53},{"k":65,"v":2.5,"y":-0.12,"x":0.2,"w":0.4},{"k":65,"v":2.5,"y":-0.16,"x":0.22,"w":0.3},
{"k":66,"v":2.7,"y":-0.025,"x":0.68,"w":0.78},{"k":66,"v":2.7,"y":-0.08,"x":0.66,"w":0.83},{"k":66,"v":2.7,"y":-0.13,"x":0.73,"w":0.83},{"k":66,"v":2.7,"y":-0.16,"x":0.74,"w":0.8},
{"k":67,"v":2.6,"y":-0.16,"x":0.78,"w":0.84},{"k":67,"v":2.6,"y":-0.22,"x":0.78,"w":0.88},{"k":67,"v":2.6,"y":-0.255,"x":0.82,"w":0.88},
{"k":68,"v":2.9,"y":-0.115,"x":-0.2,"w":-0.14},{"k":68,"v":2.9,"y":-0.14,"x":-0.27,"w":-0.13},{"k":68,"v":2.9,"y":-0.17,"x":-0.27,"w":-0.13},{"k":68,"v":2.9,"y":-0.19,"x":-0.2,"w":-0.16},
{"k":69,"v":2.7,"y":0.175,"x":0.01,"w":0.03},{"k":69,"v":2.7,"y":0.114,"x":-0.02,"w":0.065},{"k":69,"v":2.7,"y":0.046,"x":-0.08,"w":0.095},{"k":69,"v":2.7,"y":0.023,"x":-0.12,"w":0.12},{"k":69,"v":2.7,"y":0.008,"x":-0.21,"w":0.125},{"k":69,"v":2.7,"y":-0.006,"x":-0.155,"w":0.12},{"k":69,"v":2.7,"y":-0.07,"x":-0.07,"w":0.13},{"k":69,"v":2.7,"y":-0.1,"x":-0.01,"w":0.2},{"k":69,"v":2.7,"y":-0.164,"x":-0.01,"w":0.24},{"k":69,"v":2.7,"y":-0.2,"x":0.02,"w":0.33},{"k":69,"v":2.7,"y":-0.234,"x":0.04,"w":0.39},{"k":69,"v":2.7,"y":-0.27,"x":0.05,"w":0.46},{"k":69,"v":2.7,"y":-0.3,"x":0.06,"w":0.5},
{"k":70,"v":2.7,"y":-0.295,"x":0.06,"w":0.19},{"k":70,"v":2.7,"y":-0.33,"x":0.05,"w":0.18},{"k":70,"v":2.7,"y":-0.38,"x":0.125,"w":0.175},{"k":70,"v":2.7,"y":-0.45,"x":0.1,"w":0.175},{"k":70,"v":2.7,"y":-0.5,"x":0,"w":0.17},{"k":70,"v":2.7,"y":-0.55,"x":-0.08,"w":0.15},{"k":70,"v":2.7,"y":-0.6,"x":-0.12,"w":0.08},{"k":70,"v":2.7,"y":-0.65,"x":-0.13,"w":0},{"k":70,"v":2.7,"y":-0.72,"x":-0.135,"w":-0.12},
{"k":71,"v":2.7,"y":-0.295,"x":0.34,"w":0.5},{"k":71,"v":2.7,"y":-0.33,"x":0.36,"w":0.53},{"k":71,"v":2.7,"y":-0.38,"x":0.39,"w":0.53},{"k":71,"v":2.7,"y":-0.42,"x":0.4,"w":0.54},{"k":71,"v":2.7,"y":-0.463,"x":0.405,"w":0.5},{"k":71,"v":2.7,"y":-0.52,"x":0.405,"w":0.48},{"k":71,"v":2.7,"y":-0.605,"x":0.405,"w":0.42},{"k":71,"v":2.7,"y":-0.68,"x":0.42,"w":0.46},{"k":71,"v":2.7,"y":-0.75,"x":0.455,"w":0.48},{"k":71,"v":2.7,"y":-0.834,"x":0.5,"w":0.505},
{"k":72,"v":3.3,"y":0.1,"x":-0.02,"w":0.05},{"k":72,"v":3.3,"y":0.06,"x":-0.06,"w":0.09},{"k":72,"v":3.3,"y":0.03,"x":-0.11,"w":0.105},{"k":72,"v":3.3,"y":0.013,"x":-0.2,"w":0.11},{"k":72,"v":3.3,"y":-0.006,"x":-0.15,"w":0.11},{"k":72,"v":3.3,"y":-0.034,"x":-0.09,"w":0.11},{"k":72,"v":3.3,"y":-0.07,"x":-0.05,"w":0.125},{"k":72,"v":3.3,"y":-0.11,"x":0,"w":0.14},{"k":72,"v":3.3,"y":-0.177,"x":0.03,"w":0.2},{"k":72,"v":3.3,"y":-0.215,"x":0.05,"w":0.3},{"k":72,"v":3.3,"y":-0.253,"x":0.09,"w":0.37},{"k":72,"v":3.3,"y":-0.28,"x":0.13,"w":0.43},
{"k":73,"v":3.3,"y":-0.28,"x":0.13,"w":0.2},{"k":73,"v":3.3,"y":-0.33,"x":0.14,"w":0.19},{"k":73,"v":3.3,"y":-0.38,"x":0.14,"w":0.175},
{"k":74,"v":3.3,"y":-0.28,"x":0.33,"w":0.47},{"k":74,"v":3.3,"y":-0.33,"x":0.38,"w":0.5},{"k":74,"v":3.3,"y":-0.38,"x":0.42,"w":0.51},{"k":74,"v":3.3,"y":-0.43,"x":0.45,"w":0.5},{"k":74,"v":3.3,"y":-0.46,"x":0.47,"w":0.49},
{"k":75,"v":4,"y":0.09,"x":-0.01,"w":0.04},{"k":75,"v":4,"y":0.05,"x":-0.05,"w":0.085},{"k":75,"v":4,"y":0.023,"x":-0.1,"w":0.1},{"k":75,"v":4,"y":0.004,"x":-0.18,"w":0.1},{"k":75,"v":4,"y":-0.015,"x":-0.14,"w":0.09},{"k":75,"v":4,"y":-0.044,"x":-0.08,"w":0.1},{"k":75,"v":4,"y":-0.08,"x":-0.04,"w":0.11},{"k":75,"v":4,"y":-0.14,"x":0.01,"w":0.13},{"k":75,"v":4,"y":-0.177,"x":0.03,"w":0.16},{"k":75,"v":4,"y":-0.215,"x":0.07,"w":0.25},{"k":75,"v":4,"y":-0.253,"x":0.1,"w":0.33},{"k":75,"v":4,"y":-0.28,"x":0.14,"w":0.37},
{"k":76,"v":4,"y":-0.26,"x":0.28,"w":0.39},{"k":76,"v":4,"y":-0.3,"x":0.36,"w":0.45},{"k":76,"v":4,"y":-0.35,"x":0.41,"w":0.48},{"k":76,"v":4,"y":-0.4,"x":0.45,"w":0.49},
{"k":77,"v":4,"y":-0.28,"x":0.14,"w":0.19},{"k":77,"v":4,"y":-0.36,"x":0.15,"w":0.18},
{"k":78,"v":3.2,"y":0.005,"x":-0.1,"w":-0.07},{"k":78,"v":3.2,"y":-0.015,"x":-0.11,"w":-0.05},{"k":78,"v":3.2,"y":-0.035,"x":-0.07,"w":-0.05},
{"k":79,"v":5.5,"y":-0.015,"x":-0.13,"w":-0.11},{"k":79,"v":5.5,"y":-0.03,"x":-0.13,"w":-0.08},{"k":79,"v":5.5,"y":-0.05,"x":-0.09,"w":-0.06},
{"k":80,"v":5,"y":0.08,"x":-0.02,"w":0.03},{"k":80,"v":5,"y":0.05,"x":-0.04,"w":0.07},{"k":80,"v":5,"y":0.013,"x":-0.05,"w":0.08},{"k":80,"v":5,"y":-0.025,"x":-0.05,"w":0.08},{"k":80,"v":5,"y":-0.063,"x":-0.04,"w":0.085},{"k":80,"v":5,"y":-0.1,"x":0,"w":0.09},{"k":80,"v":5,"y":-0.14,"x":0.02,"w":0.1},{"k":80,"v":5,"y":-0.177,"x":0.05,"w":0.12},{"k":80,"v":5,"y":-0.205,"x":0.08,"w":0.19},{"k":80,"v":5,"y":-0.234,"x":0.11,"w":0.29},{"k":80,"v":5,"y":-0.263,"x":0.15,"w":0.33},{"k":80,"v":5,"y":-0.28,"x":0.22,"w":0.3},
{"k":81,"v":6,"y":0.07,"x":-0.02,"w":0.02},{"k":81,"v":6,"y":0.04,"x":-0.035,"w":0.06},{"k":81,"v":6,"y":0.004,"x":-0.04,"w":0.065},{"k":81,"v":6,"y":-0.044,"x":-0.035,"w":0.07},{"k":81,"v":6,"y":-0.09,"x":0.005,"w":0.075},{"k":81,"v":6,"y":-0.14,"x":0.025,"w":0.08},{"k":81,"v":6,"y":-0.177,"x":0.06,"w":0.11},{"k":81,"v":6,"y":-0.2,"x":0.1,"w":0.17},{"k":81,"v":6,"y":-0.215,"x":0.12,"w":0.25},{"k":81,"v":6,"y":-0.244,"x":0.14,"w":0.29},{"k":81,"v":6,"y":-0.269,"x":0.17,"w":0.28},
{"k":82,"v":8,"y":0.055,"x":-0.03,"w":0.01},{"k":82,"v":8,"y":0.03,"x":-0.03,"w":0.05},{"k":82,"v":8,"y":-0.006,"x":-0.03,"w":0.05},{"k":82,"v":8,"y":-0.044,"x":-0.03,"w":0.045},{"k":82,"v":8,"y":-0.08,"x":0.005,"w":0.05},{"k":82,"v":8,"y":-0.12,"x":0.02,"w":0.065},{"k":82,"v":8,"y":-0.158,"x":0.03,"w":0.07},
{"k":83,"v":10.5,"y":0.06,"x":-0.025,"w":-0.01},{"k":83,"v":10.5,"y":0.04,"x":-0.03,"w":0.01},{"k":83,"v":10.5,"y":0.013,"x":-0.01,"w":0.03},{"k":83,"v":10.5,"y":-0.034,"x":-0.025,"w":0.03},{"k":83,"v":10.5,"y":-0.072,"x":0.01,"w":0.045},{"k":83,"v":10.5,"y":-0.12,"x":0.025,"w":0.06},{"k":83,"v":10.5,"y":-0.15,"x":0.035,"w":0.06},
{"k":84,"v":12.5,"y":0.015,"x":-0.005,"w":0.015},{"k":84,"v":12.5,"y":-0.01,"x":-0.02,"w":0.03},{"k":84,"v":12.5,"y":-0.035,"x":-0.03,"w":0.03},{"k":84,"v":12.5,"y":-0.055,"x":-0.015,"w":0.02},{"k":84,"v":12.5,"y":-0.066,"x":0,"w":0.01},
{"k":85,"v":12.5,"y":-0.07,"x":0.015,"w":0.03},{"k":85,"v":12.5,"y":-0.09,"x":0.012,"w":0.05},{"k":85,"v":12.5,"y":-0.12,"x":0.025,"w":0.065},{"k":85,"v":12.5,"y":-0.145,"x":0.04,"w":0.06},{"k":85,"v":12.5,"y":-0.155,"x":0.045,"w":0.055},
{"k":86,"v":15,"y":0,"x":0,"w":0.01},{"k":86,"v":15,"y":-0.015,"x":-0.015,"w":0.025},{"k":86,"v":15,"y":-0.035,"x":-0.025,"w":0.02},{"k":86,"v":15,"y":-0.055,"x":-0.01,"w":0.01},{"k":86,"v":15,"y":-0.06,"x":-0.002,"w":0.002},
{"k":87,"v":15,"y":-0.078,"x":0.018,"w":0.03},{"k":87,"v":15,"y":-0.09,"x":0.015,"w":0.045},{"k":87,"v":15,"y":-0.125,"x":0.025,"w":0.058},{"k":87,"v":15,"y":-0.145,"x":0.042,"w":0.052},
{"k":88,"v":16,"y":-0.012,"x":-0.005,"w":0.02},{"k":88,"v":16,"y":-0.03,"x":-0.02,"w":0.015},{"k":88,"v":16,"y":-0.05,"x":-0.005,"w":0.005},
{"k":89,"v":16,"y":-0.082,"x":0.017,"w":0.03},{"k":89,"v":16,"y":-0.11,"x":0.017,"w":0.05},{"k":89,"v":16,"y":-0.135,"x":0.04,"w":0.05},
{"k":90,"v":8,"y":-0.215,"x":0.19,"w":0.22},{"k":90,"v":8,"y":-0.235,"x":0.17,"w":0.25},{"k":90,"v":8,"y":-0.255,"x":0.185,"w":0.255},{"k":90,"v":8,"y":-0.267,"x":0.2,"w":0.24},
{"k":91,"v":10,"y":-0.225,"x":0.2,"w":0.225},{"k":91,"v":10,"y":-0.24,"x":0.185,"w":0.245},{"k":91,"v":10,"y":-0.255,"x":0.2,"w":0.245},
{"k":92,"v":13.3,"y":-0.235,"x":0.21,"w":0.24},{"k":92,"v":13.3,"y":-0.25,"x":0.21,"w":0.245},{"k":92,"v":13.3,"y":-0.258,"x":0.22,"w":0.24},
{"k":93,"v":2.7,"y":0.68,"x":0.755,"w":0.765},{"k":93,"v":2.7,"y":0.62,"x":0.715,"w":0.775},{"k":93,"v":2.7,"y":0.59,"x":0.7,"w":0.985},{"k":93,"v":2.7,"y":0.5,"x":0.665,"w":0.99},{"k":93,"v":2.7,"y":0.38,"x":0.655,"w":0.99},{"k":93,"v":2.7,"y":0.3,"x":0.68,"w":0.99},{"k":93,"v":2.7,"y":0.285,"x":0.74,"w":0.99},{"k":93,"v":2.7,"y":0.26,"x":0.62,"w":0.99},{"k":93,"v":2.7,"y":0.23,"x":0.57,"w":0.99},{"k":93,"v":2.7,"y":0.2,"x":0.62,"w":0.99},{"k":93,"v":2.7,"y":0.19,"x":0.7,"w":0.99},{"k":93,"v":2.7,"y":0.16,"x":0.8,"w":0.99},{"k":93,"v":2.7,"y":0.12,"x":0.82,"w":0.99},{"k":93,"v":2.7,"y":0.11,"x":0.92,"w":0.99},{"k":93,"v":2.7,"y":0.013,"x":0.97,"w":0.99},{"k":93,"v":2.7,"y":-0.1,"x":0.98,"w":0.99},
{"k":94,"v":3.3,"y":0.58,"x":0.78,"w":0.9},{"k":94,"v":3.3,"y":0.55,"x":0.73,"w":0.99},{"k":94,"v":3.3,"y":0.45,"x":0.69,"w":0.99},{"k":94,"v":3.3,"y":0.35,"x":0.68,"w":0.99},{"k":94,"v":3.3,"y":0.3,"x":0.72,"w":0.99},{"k":94,"v":3.3,"y":0.25,"x":0.73,"w":0.99},{"k":94,"v":3.3,"y":0.2,"x":0.7,"w":0.99},{"k":94,"v":3.3,"y":0.17,"x":0.85,"w":0.99},{"k":94,"v":3.3,"y":0.12,"x":0.92,"w":0.99},{"k":94,"v":3.3,"y":0.05,"x":0.96,"w":0.99},{"k":94,"v":3.3,"y":-0.05,"x":0.98,"w":0.99},
{"k":95,"v":2,"y":0.45,"x":0.95,"w":0.99},{"k":95,"v":2,"y":0.43,"x":0.89,"w":0.99},{"k":95,"v":2,"y":0.4,"x":0.885,"w":0.99},{"k":95,"v":2,"y":0.37,"x":0.93,"w":0.99},{"k":95,"v":2,"y":0.34,"x":0.97,"w":0.99},
{"k":96,"v":0.9,"y":0.42,"x":0.96,"w":0.99},{"k":96,"v":0.9,"y":0.39,"x":0.94,"w":0.99},{"k":96,"v":0.9,"y":0.36,"x":0.97,"w":0.99},
{"k":97,"v":4,"y":0.58,"x":0.8,"w":0.84},{"k":97,"v":4,"y":0.55,"x":0.76,"w":0.89},{"k":97,"v":4,"y":0.48,"x":0.72,"w":0.86},{"k":97,"v":4,"y":0.42,"x":0.7,"w":0.81},{"k":97,"v":4,"y":0.36,"x":0.7,"w":0.76},{"k":97,"v":4,"y":0.34,"x":0.72,"w":0.74},
{"k":98,"v":5,"y":0.54,"x":0.78,"w":0.85},{"k":98,"v":5,"y":0.48,"x":0.74,"w":0.82},{"k":98,"v":5,"y":0.42,"x":0.71,"w":0.78},{"k":98,"v":5,"y":0.38,"x":0.71,"w":0.74},
{"k":99,"v":6,"y":0.52,"x":0.78,"w":0.83},{"k":99,"v":6,"y":0.47,"x":0.74,"w":0.81},{"k":99,"v":6,"y":0.42,"x":0.715,"w":0.77},{"k":99,"v":6,"y":0.385,"x":0.72,"w":0.74},
{"k":100,"v":7.5,"y":0.51,"x":0.79,"w":0.82},{"k":100,"v":7.5,"y":0.47,"x":0.75,"w":0.8},{"k":100,"v":7.5,"y":0.43,"x":0.72,"w":0.76},{"k":100,"v":7.5,"y":0.395,"x":0.72,"w":0.735},
{"k":101,"v":9,"y":0.49,"x":0.775,"w":0.8},{"k":101,"v":9,"y":0.46,"x":0.75,"w":0.785},{"k":101,"v":9,"y":0.43,"x":0.73,"w":0.76},{"k":101,"v":9,"y":0.41,"x":0.73,"w":0.745},
{"k":102,"v":4,"y":0.58,"x":0.93,"w":0.99},{"k":102,"v":4,"y":0.52,"x":0.92,"w":0.99},{"k":102,"v":4,"y":0.46,"x":0.93,"w":0.99},
{"k":103,"v":5,"y":0.53,"x":0.96,"w":0.99},{"k":103,"v":5,"y":0.49,"x":0.95,"w":0.98},
{"k":104,"v":4,"y":0.39,"x":0.9,"w":0.94},{"k":104,"v":4,"y":0.36,"x":0.86,"w":0.96},{"k":104,"v":4,"y":0.3,"x":0.85,"w":0.97},{"k":104,"v":4,"y":0.27,"x":0.87,"w":0.93},
{"k":105,"v":5,"y":0.37,"x":0.88,"w":0.95},{"k":105,"v":5,"y":0.33,"x":0.87,"w":0.96},{"k":105,"v":5,"y":0.3,"x":0.88,"w":0.94},
{"k":106,"v":6,"y":0.36,"x":0.89,"w":0.93},{"k":106,"v":6,"y":0.33,"x":0.875,"w":0.94},{"k":106,"v":6,"y":0.305,"x":0.89,"w":0.92},
{"k":107,"v":8,"y":0.35,"x":0.895,"w":0.925},{"k":107,"v":8,"y":0.33,"x":0.88,"w":0.93},{"k":107,"v":8,"y":0.31,"x":0.89,"w":0.91},
{"k":108,"v":10,"y":0.345,"x":0.91,"w":0.92},{"k":108,"v":10,"y":0.33,"x":0.895,"w":0.925},{"k":108,"v":10,"y":0.315,"x":0.895,"w":0.91},
{"k":109,"v":13,"y":0.34,"x":0.915,"w":0.92},{"k":109,"v":13,"y":0.33,"x":0.91,"w":0.925},{"k":109,"v":13,"y":0.32,"x":0.91,"w":0.915},
{"k":110,"v":4,"y":0.32,"x":0.78,"w":0.88},{"k":110,"v":4,"y":0.28,"x":0.72,"w":0.9},{"k":110,"v":4,"y":0.24,"x":0.76,"w":0.9},{"k":110,"v":4,"y":0.21,"x":0.83,"w":0.87},
{"k":111,"v":5,"y":0.3,"x":0.81,"w":0.85},{"k":111,"v":5,"y":0.275,"x":0.79,"w":0.87},{"k":111,"v":5,"y":0.25,"x":0.81,"w":0.85},
{"k":112,"v":4,"y":0.3,"x":0.95,"w":0.99},{"k":112,"v":4,"y":0.24,"x":0.93,"w":0.99},{"k":112,"v":4,"y":0.16,"x":0.9,"w":0.99},{"k":112,"v":4,"y":0.08,"x":0.94,"w":0.99},{"k":112,"v":4,"y":0.03,"x":0.96,"w":0.99},
{"k":113,"v":5,"y":0.26,"x":0.97,"w":0.99},{"k":113,"v":5,"y":0.2,"x":0.95,"w":0.99},{"k":113,"v":5,"y":0.13,"x":0.92,"w":0.99},{"k":113,"v":5,"y":0.07,"x":0.96,"w":0.99},
{"k":114,"v":6,"y":0.21,"x":0.97,"w":0.99},{"k":114,"v":6,"y":0.17,"x":0.96,"w":0.99},{"k":114,"v":6,"y":0.13,"x":0.95,"w":0.99},{"k":114,"v":6,"y":0.1,"x":0.97,"w":0.99}
]},
"vconcat":[
{"width":1035,"height":50,"data":{"name":"cb"},"resolve":{"axis":{"x":"independent"}},
"encoding":{"y":{"field":"b","type":"quantitative","scale":{"domain":[0,1],"nice":false},"axis":null},"y2":{"field":"t"},"color":{"field":"v","type":"quantitative","legend":null,"scale":{"domain":[0,0.6,1,2,3,4,5,6,7,8,9,10,11,12,13,14,15,15.5,16],"range":["#000000","#000000","#3a0040","#520090","#2800f0","#0030ff","#0088ff","#00eeff","#00ffcc","#00ff60","#00ff00","#48ff00","#aaff00","#ffff00","#ffaa00","#ff3300","#ff0000","#ffffff","#ffffff"]}}},
"layer":[
{"mark":"rect","encoding":{"x":{"field":"lo","type":"quantitative","scale":{"domain":[-9.88,15],"nice":false},"axis":{"zindex":1,"orient":"top","values":[0,2.5,5,7.5,10,12.5,15],"format":".1f","tickSize":-12,"labelFontSize":26,"labelPadding":18,"labelColor":"black","minExtent":30,"maxExtent":30}},"x2":{"field":"hi"}}},
{"mark":"rect","encoding":{"x":{"field":"lo","type":"quantitative","scale":{"domain":[-9.88,15],"nice":false},"axis":{"zindex":1,"orient":"bottom","values":[0,2.5,5,7.5,10,12.5,15],"labels":false,"tickSize":-12,"minExtent":0,"maxExtent":0}},"x2":{"field":"hi"}}},
{"mark":"rect","encoding":{"x":{"field":"lo","type":"quantitative","scale":{"domain":[-9.88,15],"nice":false},"axis":{"zindex":1,"orient":"top","values":[1.25,3.75,6.25,8.75,11.25,13.75],"labels":false,"tickSize":-6,"minExtent":0,"maxExtent":0}},"x2":{"field":"hi"}}},
{"mark":"rect","encoding":{"x":{"field":"lo","type":"quantitative","scale":{"domain":[-9.88,15],"nice":false},"axis":{"zindex":1,"orient":"bottom","values":[1.25,3.75,6.25,8.75,11.25,13.75],"labels":false,"tickSize":-6,"minExtent":0,"maxExtent":0}},"x2":{"field":"hi"}}}
]},
{"width":1035,"height":1048,"view":{"stroke":"#333333","strokeWidth":1.5},"resolve":{"axis":{"x":"independent","y":"independent"}},
"layer":[
{"data":{"name":"map"},"mark":{"type":"area","orient":"horizontal","interpolate":"catmull-rom"},"encoding":{
"y":{"field":"y","type":"quantitative","scale":{"domain":[-1,1],"nice":false},"axis":{"zindex":1,"orient":"left","values":[-1,-0.5,0,0.5,1],"format":".1f","tickSize":-20,"labelFontSize":30,"labelPadding":30,"labelColor":"black","labelFlush":true,"minExtent":80,"maxExtent":80}},
"x":{"field":"x","type":"quantitative","scale":{"domain":[-1,1],"nice":false},"axis":{"zindex":1,"orient":"bottom","values":[-1,-0.5,0,0.5,1],"format":".1f","tickSize":-20,"labelFontSize":30,"labelPadding":35,"labelColor":"black","labelFlush":false}},
"x2":{"field":"w"},"detail":{"field":"k"},
"color":{"field":"v","type":"quantitative","legend":null,"scale":{"domain":[0,0.6,1,2,3,4,5,6,7,8,9,10,11,12,13,14,15,15.5,16],"range":["#000000","#000000","#3a0040","#520090","#2800f0","#0030ff","#0088ff","#00eeff","#00ffcc","#00ff60","#00ff00","#48ff00","#aaff00","#ffff00","#ffaa00","#ff3300","#ff0000","#ffffff","#ffffff"]}}}},
{"data":{"name":"cont"},"mark":{"type":"line","color":"white","strokeWidth":1.1},"encoding":{"order":{"value":null},"detail":{"field":"c"},
"x":{"field":"x","type":"quantitative","scale":{"domain":[-1,1],"nice":false},"axis":{"zindex":1,"orient":"bottom","values":[-0.9,-0.8,-0.7,-0.6,-0.4,-0.3,-0.2,-0.1,0.1,0.2,0.3,0.4,0.6,0.7,0.8,0.9],"labels":false,"tickSize":-10,"minExtent":0,"maxExtent":0}},
"y":{"field":"y","type":"quantitative","scale":{"domain":[-1,1],"nice":false},"axis":{"zindex":1,"orient":"left","values":[-0.9,-0.8,-0.7,-0.6,-0.4,-0.3,-0.2,-0.1,0.1,0.2,0.3,0.4,0.6,0.7,0.8,0.9],"labels":false,"tickSize":-10,"minExtent":0,"maxExtent":0}}}},
{"data":{"name":"src"},"mark":{"type":"point","shape":"M-1,0H1M0,-1V1","size":256,"stroke":"black","strokeWidth":1.3,"filled":false,"opacity":1},"encoding":{
"x":{"field":"x","type":"quantitative","scale":{"domain":[-1,1],"nice":false},"axis":{"zindex":1,"orient":"top","values":[-1,-0.5,0,0.5,1],"labels":false,"tickSize":-20,"minExtent":0,"maxExtent":0}},
"y":{"field":"y","type":"quantitative","scale":{"domain":[-1,1],"nice":false},"axis":{"zindex":1,"orient":"right","values":[-1,-0.5,0,0.5,1],"labels":false,"tickSize":-20,"minExtent":0,"maxExtent":0}}}},
{"data":{"name":"lab"},"mark":{"type":"text","text":"1","color":"white","font":"Liberation Serif","fontSize":16,"fontWeight":"bold"},"encoding":{
"x":{"field":"x","type":"quantitative","scale":{"domain":[-1,1],"nice":false},"axis":{"zindex":1,"orient":"top","values":[-0.9,-0.8,-0.7,-0.6,-0.4,-0.3,-0.2,-0.1,0.1,0.2,0.3,0.4,0.6,0.7,0.8,0.9],"labels":false,"tickSize":-10,"minExtent":0,"maxExtent":0}},
"y":{"field":"y","type":"quantitative","scale":{"domain":[-1,1],"nice":false},"axis":{"zindex":1,"orient":"right","values":[-0.9,-0.8,-0.7,-0.6,-0.4,-0.3,-0.2,-0.1,0.1,0.2,0.3,0.4,0.6,0.7,0.8,0.9],"labels":false,"tickSize":-10,"minExtent":0,"maxExtent":0}}}}
]}
]}
